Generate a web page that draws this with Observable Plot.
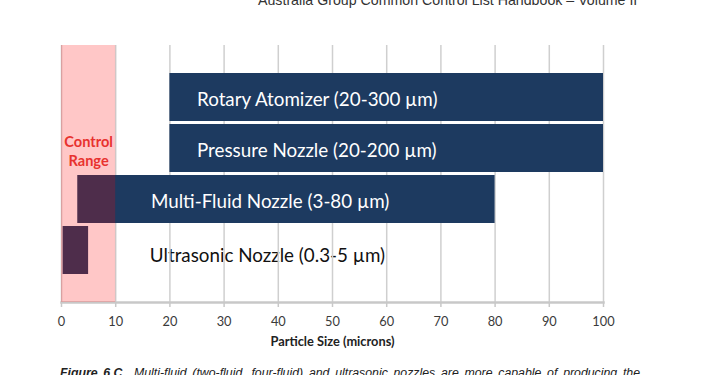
<!DOCTYPE html>
<html>
<head>
<meta charset="utf-8">
<script src="https://cdn.jsdelivr.net/npm/d3@7"></script>
<script src="https://cdn.jsdelivr.net/npm/@observablehq/plot@0.6"></script>
<style>
  html, body { margin: 0; padding: 0; background: #fff; width: 710px; height: 375px; overflow: hidden; }
  #wrap { position: relative; width: 710px; height: 375px; }
  #header { position: absolute; left: 258px; top: -8px; font-family: "Liberation Sans", Arial, sans-serif; font-size: 14.2px; color: #333; white-space: nowrap; }
  #caption { position: absolute; left: 60px; top: 366px; width: 580px; font-family: "Liberation Sans", Arial, sans-serif; font-style: italic; font-size: 12.3px; color: #222; white-space: nowrap; text-align: justify; text-align-last: justify; }
  #chart { position: absolute; left: 0; top: 0; }
</style>
</head>
<body>
<div id="wrap">
  <div id="chart"></div>
  <div id="header">Australia Group Common Control List Handbook – Volume II</div>
  <div id="caption"><b>Figure 6.C</b>&nbsp; Multi-fluid (two-fluid, four-fluid) and ultrasonic nozzles are more capable of producing the</div>
</div>
<script>
// Data
const nozzles = ["Rotary Atomizer", "Pressure Nozzle", "Multi-Fluid Nozzle", "Ultrasonic Nozzle"];
const labels = ["Rotary Atomizer (20-300 µm)", "Pressure Nozzle (20-200 µm)", "Multi-Fluid Nozzle (3-80 µm)", "Ultrasonic Nozzle (0.3-5 µm)"];
const minSize = [20, 20, 3, 0.3];
const maxSize = [300, 200, 80, 5];
const labelAt = [25, 25, 16.5, 16.3];
const axisMax = 100;
const controlRange = [0, 10];
const xTicks = [0, 10, 20, 30, 40, 50, 60, 70, 80, 90, 100];

const rows = nozzles.map((n, i) => ({
  name: n, label: labels[i], x1: minSize[i], x2: Math.min(maxSize[i], axisMax), lx: labelAt[i],
  inside: maxSize[i] <= controlRange[1]
}));
const outsideRows = rows.filter(d => !d.inside);
const insideRows = rows.filter(d => d.inside);

const navy = "#1d3a60";
const font = "Lato, 'Open Sans', sans-serif";

const plot = Plot.plot({
  width: 710,
  height: 375,
  marginTop: 45,
  marginBottom: 73,
  marginLeft: 61,
  marginRight: 107,
  style: { fontFamily: font, background: "transparent" },
  x: { domain: [0, axisMax], axis: null },
  y: { domain: nozzles, axis: null, paddingInner: 0.065, paddingOuter: 0.535 },
  marks: [
    Plot.text(insideRows, { y: "name", x: "lx", text: "label", textAnchor: "start", dy: 5,
      fill: "#111", fontSize: 18.8, fontFamily: font }),
    Plot.ruleX(xTicks, { stroke: "#cfcfcf", strokeWidth: 1.5 }),
    Plot.barX(rows, { y: "name", x1: "x1", x2: "x2", fill: navy }),
    Plot.text(outsideRows, { y: "name", x: "lx", text: "label", textAnchor: "start", dy: 2,
      fill: "#fff", fontSize: 18.8, fontFamily: font }),
    Plot.frame({ anchor: "bottom", stroke: "#c8c8c8", strokeWidth: 2.5 }),
    Plot.axisX({ ticks: xTicks, tickFormat: d => d, tickSize: 5, tickPadding: 9, fontSize: 12.8,
      stroke: "#c8c8c8", strokeWidth: 1.5, fill: "#3a3a3a", label: null }),
    Plot.rect([controlRange], { x1: d => d[0], x2: d => d[1], fill: "#ff0000", fillOpacity: 0.22 }),
    Plot.text(["Control\nRange"], { x: (controlRange[0] + controlRange[1]) / 2, frameAnchor: "top", dy: 88,
      lineHeight: 1.3, fill: "#e8322f", fontWeight: "bold", fontSize: 14.6, fontFamily: font }),
    Plot.text(["Particle Size (microns)"], { frameAnchor: "bottom", dy: 43, fontWeight: "bold",
      fontSize: 12.8, fill: "#222", fontFamily: font })
  ]
});
document.getElementById("chart").appendChild(plot);
</script>
</body>
</html>
